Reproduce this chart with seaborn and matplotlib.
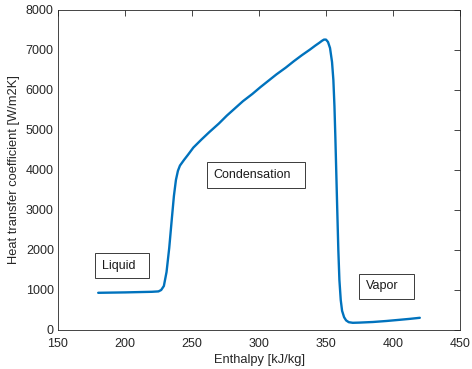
import matplotlib
matplotlib.use("Agg")
import matplotlib.pyplot as plt
import seaborn as sns
import pandas as pd
from matplotlib.patches import Rectangle

# Data
enthalpy = [180, 200, 220, 225, 227, 229, 231, 233, 235, 236.5, 238, 239.5, 241, 244,
            247, 251, 257, 263, 270, 276, 282, 288, 295, 301, 307, 313, 320, 326,
            332, 338, 342, 345, 347, 348.5, 350, 351.5, 353, 354.5, 355.5, 356.3,
            357, 357.7, 358.4, 359.2, 360, 361, 362, 363.5, 365, 367, 370, 375,
            385, 395, 405, 413, 420]
htc = [930, 940, 955, 965, 1000, 1100, 1450, 2050, 2800, 3350, 3750, 3980, 4110, 4250,
       4380, 4560, 4760, 4950, 5160, 5360, 5540, 5720, 5900, 6070, 6230, 6390, 6560, 6720,
       6870, 7010, 7110, 7180, 7230, 7260, 7260, 7200, 7050, 6700, 6250, 5600,
       4800, 3900, 3000, 2000, 1250, 750, 480, 320, 240, 195, 180, 185,
       200, 225, 255, 280, 305]

region_labels = ["Liquid", "Condensation", "Vapor"]
x_ticks = [150, 200, 250, 300, 350, 400, 450]
y_ticks = [0, 1000, 2000, 3000, 4000, 5000, 6000, 7000, 8000]

sns.set_theme(style="white")
plt.rcParams['font.family'] = ['Liberation Sans', 'DejaVu Sans']
txt = "#262626"

fig = plt.figure(figsize=(4.72, 3.69), dpi=100)
ax = fig.add_axes([58/472, 1-330/369, (460-58)/472, (330-10)/369])

df = pd.DataFrame({"Enthalpy": enthalpy, "HTC": htc})
sns.lineplot(data=df, x="Enthalpy", y="HTC", sort=False, estimator=None,
             color="#0072BD", linewidth=1.7, ax=ax)

ax.set_xlim(150, 450)
ax.set_ylim(0, 8000)
ax.set_xticks(x_ticks)
ax.set_yticks(y_ticks)
ax.tick_params(direction="in", length=4, width=0.6, colors=txt, labelsize=9,
               top=True, right=True, labelcolor=txt)
ax.tick_params(axis="x", pad=6)
ax.tick_params(axis="y", pad=3)
for s in ax.spines.values():
    s.set_visible(True)
    s.set_color(txt)
    s.set_linewidth(0.6)
ax.set_xlabel("Enthalpy [kJ/kg]", fontsize=9.3, color=txt, labelpad=3)
ax.set_ylabel("Heat transfer coefficient [W/m2K]", fontsize=9.3, color=txt, labelpad=4)

# Text boxes (MATLAB-style fixed-size boxes)
boxes = [(177.6, 1300, 40.3, 625, 182.8, 1610),
         (261.4, 3550, 72.9, 650, 266.3, 3875),
         (374.9, 775, 40.8, 625, 380.0, 1090)]
for lab, (bx, by, bw, bh, tx, ty) in zip(region_labels, boxes):
    ax.add_patch(Rectangle((bx, by), bw, bh, fill=False, edgecolor="#3a3a3a", linewidth=0.7))
    ax.text(tx, ty, lab, fontsize=9, color="#1a1a1a", ha="left", va="center")

fig.savefig("out.png", dpi=100)
